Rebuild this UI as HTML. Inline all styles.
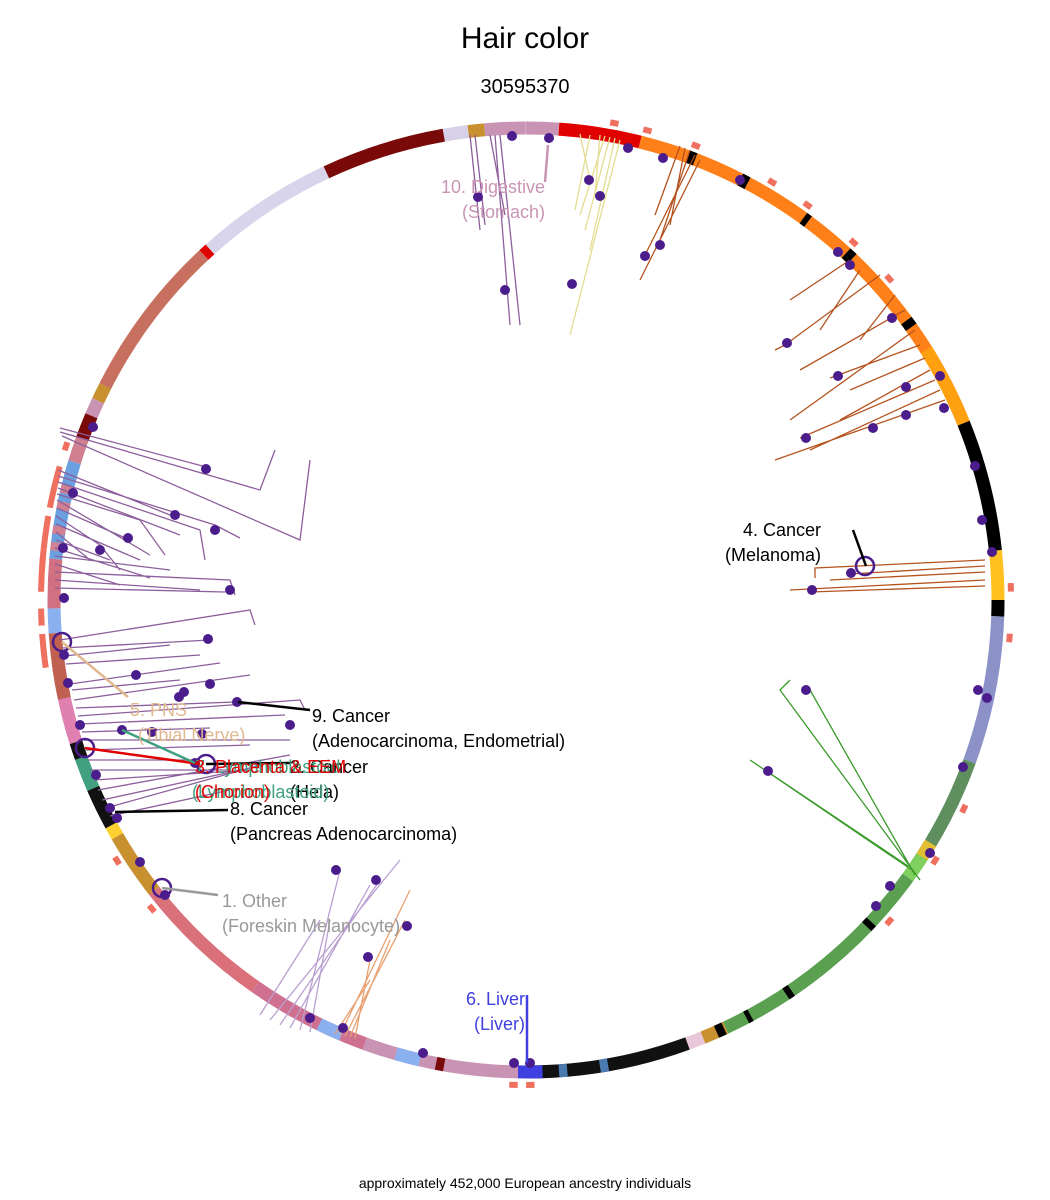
<!DOCTYPE html>
<html><head><meta charset="utf-8"><style>
html,body{margin:0;padding:0;background:#fff;}
svg{display:block;font-family:"Liberation Sans",sans-serif;}
</style></head><body>
<svg width="1050" height="1200" viewBox="0 0 1050 1200" xmlns="http://www.w3.org/2000/svg">
<rect width="1050" height="1200" fill="#fff"/>
<text x="525" y="48" font-size="30" text-anchor="middle">Hair color</text>
<text x="525" y="93" font-size="20" text-anchor="middle">30595370</text>
<text x="525" y="1188" font-size="14" text-anchor="middle">approximately 452,000 European ancestry individuals</text>

<g fill="none" stroke-width="13" transform="rotate(-90 526 600)">
<circle cx="526" cy="600" r="472" pathLength="360" stroke="#c994b4" stroke-dasharray="4 400" stroke-dashoffset="0"/>
<circle cx="526" cy="600" r="472" pathLength="360" stroke="#e00000" stroke-dasharray="10 400" stroke-dashoffset="-4"/>
<circle cx="526" cy="600" r="472" pathLength="360" stroke="#ff8018" stroke-dasharray="54 400" stroke-dashoffset="-14"/>
<circle cx="526" cy="600" r="472" pathLength="360" stroke="#ffa010" stroke-dasharray="10 400" stroke-dashoffset="-58"/>
<circle cx="526" cy="600" r="472" pathLength="360" stroke="#000" stroke-dasharray="16 400" stroke-dashoffset="-68"/>
<circle cx="526" cy="600" r="472" pathLength="360" stroke="#ffc020" stroke-dasharray="6 400" stroke-dashoffset="-84"/>
<circle cx="526" cy="600" r="472" pathLength="360" stroke="#000" stroke-dasharray="2 400" stroke-dashoffset="-90"/>
<circle cx="526" cy="600" r="472" pathLength="360" stroke="#8c92c8" stroke-dasharray="18 400" stroke-dashoffset="-92"/>
<circle cx="526" cy="600" r="472" pathLength="360" stroke="#5f8f5f" stroke-dasharray="15 400" stroke-dashoffset="-110"/>
<circle cx="526" cy="600" r="472" pathLength="360" stroke="#e0c030" stroke-dasharray="2 400" stroke-dashoffset="-121"/>
<circle cx="526" cy="600" r="472" pathLength="360" stroke="#80d060" stroke-dasharray="3 400" stroke-dashoffset="-123"/>
<circle cx="526" cy="600" r="472" pathLength="360" stroke="#5aa050" stroke-dasharray="29 400" stroke-dashoffset="-126"/>
<circle cx="526" cy="600" r="472" pathLength="360" stroke="#c99030" stroke-dasharray="3 400" stroke-dashoffset="-155"/>
<circle cx="526" cy="600" r="472" pathLength="360" stroke="#e8c8d8" stroke-dasharray="2 400" stroke-dashoffset="-158"/>
<circle cx="526" cy="600" r="472" pathLength="360" stroke="#111" stroke-dasharray="20 400" stroke-dashoffset="-160"/>
<circle cx="526" cy="600" r="472" pathLength="360" stroke="#4a7ab0" stroke-dasharray="1 4 1 400" stroke-dashoffset="-170"/>
<circle cx="526" cy="600" r="472" pathLength="360" stroke="#4040e0" stroke-dasharray="3 400" stroke-dashoffset="-178"/>
<circle cx="526" cy="600" r="472" pathLength="360" stroke="#c994b4" stroke-dasharray="19 400" stroke-dashoffset="-181"/>
<circle cx="526" cy="600" r="472" pathLength="360" stroke="#8ab0f0" stroke-dasharray="3 400" stroke-dashoffset="-193"/>
<circle cx="526" cy="600" r="472" pathLength="360" stroke="#7a0a0a" stroke-dasharray="1 400" stroke-dashoffset="-190"/>
<circle cx="526" cy="600" r="472" pathLength="360" stroke="#d07090" stroke-dasharray="15 400" stroke-dashoffset="-200"/>
<circle cx="526" cy="600" r="472" pathLength="360" stroke="#8ab0f0" stroke-dasharray="3 400" stroke-dashoffset="-203"/>
<circle cx="526" cy="600" r="472" pathLength="360" stroke="#d9707a" stroke-dasharray="17 400" stroke-dashoffset="-215"/>
<circle cx="526" cy="600" r="472" pathLength="360" stroke="#c99030" stroke-dasharray="8 400" stroke-dashoffset="-232"/>
<circle cx="526" cy="600" r="472" pathLength="360" stroke="#ffd030" stroke-dasharray="1.5 400" stroke-dashoffset="-240"/>
<circle cx="526" cy="600" r="472" pathLength="360" stroke="#111" stroke-dasharray="5 400" stroke-dashoffset="-241.5"/>
<circle cx="526" cy="600" r="472" pathLength="360" stroke="#40a080" stroke-dasharray="4 400" stroke-dashoffset="-246.5"/>
<circle cx="526" cy="600" r="472" pathLength="360" stroke="#111" stroke-dasharray="2 400" stroke-dashoffset="-250.5"/>
<circle cx="526" cy="600" r="472" pathLength="360" stroke="#e080b0" stroke-dasharray="10 400" stroke-dashoffset="-252.5"/>
<circle cx="526" cy="600" r="472" pathLength="360" stroke="#c06050" stroke-dasharray="8 400" stroke-dashoffset="-258"/>
<circle cx="526" cy="600" r="472" pathLength="360" stroke="#8ab0f0" stroke-dasharray="3 400" stroke-dashoffset="-266"/>
<circle cx="526" cy="600" r="472" pathLength="360" stroke="#d07080" stroke-dasharray="6 400" stroke-dashoffset="-269"/>
<circle cx="526" cy="600" r="472" pathLength="360" stroke="#6aa0e0" stroke-dasharray="12 400" stroke-dashoffset="-275"/>
<circle cx="526" cy="600" r="472" pathLength="360" stroke="#d08090" stroke-dasharray="1 1 1 2 1 1 1 400" stroke-dashoffset="-276"/>
<circle cx="526" cy="600" r="472" pathLength="360" stroke="#d08090" stroke-dasharray="6 400" stroke-dashoffset="-287"/>
<circle cx="526" cy="600" r="472" pathLength="360" stroke="#7a0a0a" stroke-dasharray="3 400" stroke-dashoffset="-290"/>
<circle cx="526" cy="600" r="472" pathLength="360" stroke="#c994b4" stroke-dasharray="2 400" stroke-dashoffset="-293"/>
<circle cx="526" cy="600" r="472" pathLength="360" stroke="#c99030" stroke-dasharray="2 400" stroke-dashoffset="-295"/>
<circle cx="526" cy="600" r="472" pathLength="360" stroke="#c87060" stroke-dasharray="21 400" stroke-dashoffset="-297"/>
<circle cx="526" cy="600" r="472" pathLength="360" stroke="#e00000" stroke-dasharray="1 400" stroke-dashoffset="-317"/>
<circle cx="526" cy="600" r="472" pathLength="360" stroke="#d8d4ec" stroke-dasharray="17 400" stroke-dashoffset="-318"/>
<circle cx="526" cy="600" r="472" pathLength="360" stroke="#7a0a0a" stroke-dasharray="15 400" stroke-dashoffset="-335"/>
<circle cx="526" cy="600" r="472" pathLength="360" stroke="#d8d0e8" stroke-dasharray="3 400" stroke-dashoffset="-350"/>
<circle cx="526" cy="600" r="472" pathLength="360" stroke="#c99030" stroke-dasharray="2 400" stroke-dashoffset="-353"/>
<circle cx="526" cy="600" r="472" pathLength="360" stroke="#c994b4" stroke-dasharray="5 400" stroke-dashoffset="-355"/>
<circle cx="526" cy="600" r="472" pathLength="360" stroke="#000" stroke-dasharray="1 6 1 8 0.7 6 1 10 1 400" stroke-dashoffset="-20"/>
<circle cx="526" cy="600" r="472" pathLength="360" stroke="#000" stroke-dasharray="0.8 12 0.8 5 0.6 3 1 400" stroke-dashoffset="-133"/>
</g>
<!-- outer salmon ticks -->
<g fill="none" stroke="#f07060" stroke-width="6" transform="rotate(-90 526 600)">
<circle cx="526" cy="600" r="485" pathLength="360" stroke-dasharray="1 4 1 6 2 3 1 8 1 400" stroke-dashoffset="-262"/>
<circle cx="526" cy="600" r="485" pathLength="360" stroke-dasharray="3 1 2 2 4 1 3 2 5 400" stroke-dashoffset="-263"/>
<circle cx="526" cy="600" r="485" pathLength="360" stroke-dasharray="1 3 1 5 1 400" stroke-dashoffset="-10"/>
<circle cx="526" cy="600" r="485" pathLength="360" stroke-dasharray="1 4 1 6 1 5 1 400" stroke-dashoffset="-30"/>
<circle cx="526" cy="600" r="485" pathLength="360" stroke-dasharray="1 5 1 400" stroke-dashoffset="-88"/>
<circle cx="526" cy="600" r="485" pathLength="360" stroke-dasharray="1 6 1 8 1 400" stroke-dashoffset="-115"/>
<circle cx="526" cy="600" r="485" pathLength="360" stroke-dasharray="1 6 1 400" stroke-dashoffset="-230"/>
<circle cx="526" cy="600" r="485" pathLength="360" stroke-dasharray="1 1 1 400" stroke-dashoffset="-179"/>
</g>

<g fill="none" stroke="#8c5f9c" stroke-width="1.3">
<path d="M60,428 L210,468 M60,432 L260,490 L275,450 M62,436 L300,540 L310,460"/>
<path d="M58,470 L170,515 M58,476 L215,525 L240,538 M58,482 L200,530 L205,560 M58,488 L180,535 M57,494 L140,520 L165,555 M57,500 L150,555 M57,508 L130,540 M56,516 L100,545 L120,570 M56,524 L140,560 M56,532 L90,560 M56,540 L110,560 M55,548 L150,578 M55,556 L170,570 M55,564 L120,585 M55,572 L230,580 L235,595 M55,580 L200,590 M55,588 L225,592"/>
<path d="M60,640 L250,610 L255,625 M62,648 L210,640 M64,656 L170,645 M66,664 L200,655"/>
<path d="M70,684 L220,663 M72,690 L180,680 M74,700 L250,675 M76,708 L235,702 M78,716 L300,700 L305,710 M80,724 L285,715 M82,732 L210,728 M84,740 L290,740 M86,750 L250,745 M88,760 L200,760 M90,770 L230,770 M94,780 L250,770 M98,790 L290,755 M102,800 L240,770 M106,808 L260,765 M110,816 L230,790"/>
</g>
<g fill="none" stroke="#b5531f" stroke-width="1.3">
<path d="M985,560 L815,568 L815,578 M985,566 L850,574 M985,572 L830,580 M985,580 L790,590 M985,586 L810,592"/>
<path d="M945,400 L775,460 M940,390 L810,450 M935,380 L800,438 M930,370 L840,420 M925,358 L850,390 M920,345 L830,378 M915,330 L790,420 M905,310 L800,370 M895,295 L860,340 M880,275 L785,345 L775,350"/>
<path d="M850,260 L790,300 M860,270 L820,330"/>
<path d="M700,160 L640,280 M695,155 L645,255 M690,150 L660,240 M685,148 L670,225 M680,146 L655,215"/>
</g>
<g fill="none" stroke="#e4dc90" stroke-width="1.3">
<path d="M620,140 L570,335 M615,138 L590,250 M610,137 L585,230 M605,136 L580,215 M600,135 L595,195 M590,135 L575,210 M580,134 L590,180"/>
</g>
<g fill="none" stroke="#8c5f9c" stroke-width="1.3">
<path d="M470,135 L480,230 M475,135 L485,225 M495,135 L510,325 M500,135 L520,325 M490,135 L505,215"/>
</g>
<g fill="none" stroke="#3a9a2a" stroke-width="1.3">
<path d="M920,880 L780,690 L790,680 M915,875 L810,690 M912,870 L750,760 M908,866 L765,770"/>
</g>
<g fill="none" stroke="#b9a0d0" stroke-width="1.3">
<path d="M270,1020 L400,860 M280,1025 L380,880 M290,1028 L370,885 M300,1030 L340,870 M310,1032 L330,920 M260,1015 L320,920"/>
</g>
<g fill="none" stroke="#e8a070" stroke-width="1.3">
<path d="M340,1035 L410,890 M345,1036 L405,920 M350,1037 L390,940 M355,1038 L370,960 M335,1034 L370,980"/>
</g>

<g fill="#4b1d8c">
<circle cx="93" cy="427" r="5"/><circle cx="206" cy="469" r="5"/><circle cx="215" cy="530" r="5"/><circle cx="175" cy="515" r="5"/>
<circle cx="73" cy="493" r="5"/><circle cx="63" cy="548" r="5"/><circle cx="100" cy="550" r="5"/><circle cx="128" cy="538" r="5"/>
<circle cx="230" cy="590" r="5"/><circle cx="64" cy="598" r="5"/><circle cx="208" cy="639" r="5"/><circle cx="64" cy="655" r="5"/>
<circle cx="68" cy="683" r="5"/><circle cx="136" cy="675" r="5"/><circle cx="184" cy="692" r="5"/><circle cx="210" cy="684" r="5"/>
<circle cx="179" cy="697" r="5"/><circle cx="237" cy="702" r="5"/><circle cx="290" cy="725" r="5"/><circle cx="122" cy="730" r="5"/>
<circle cx="152" cy="732" r="5"/><circle cx="202" cy="734" r="5"/><circle cx="80" cy="725" r="5"/><circle cx="195" cy="763" r="5"/>
<circle cx="96" cy="775" r="5"/><circle cx="110" cy="808" r="5"/><circle cx="117" cy="818" r="5"/><circle cx="140" cy="862" r="5"/>
<circle cx="165" cy="895" r="5"/><circle cx="310" cy="1018" r="5"/><circle cx="343" cy="1028" r="5"/><circle cx="336" cy="870" r="5"/>
<circle cx="376" cy="880" r="5"/><circle cx="407" cy="926" r="5"/><circle cx="368" cy="957" r="5"/><circle cx="423" cy="1053" r="5"/>
<circle cx="514" cy="1063" r="5"/><circle cx="530" cy="1063" r="5"/>
<circle cx="478" cy="197" r="5"/><circle cx="505" cy="290" r="5"/><circle cx="512" cy="136" r="5"/><circle cx="549" cy="138" r="5"/>
<circle cx="589" cy="180" r="5"/><circle cx="600" cy="196" r="5"/><circle cx="572" cy="284" r="5"/><circle cx="628" cy="148" r="5"/>
<circle cx="663" cy="158" r="5"/><circle cx="645" cy="256" r="5"/><circle cx="660" cy="245" r="5"/><circle cx="740" cy="180" r="5"/>
<circle cx="838" cy="252" r="5"/><circle cx="850" cy="265" r="5"/><circle cx="892" cy="318" r="5"/><circle cx="787" cy="343" r="5"/>
<circle cx="838" cy="376" r="5"/><circle cx="940" cy="376" r="5"/><circle cx="906" cy="387" r="5"/><circle cx="944" cy="408" r="5"/>
<circle cx="806" cy="438" r="5"/><circle cx="873" cy="428" r="5"/><circle cx="906" cy="415" r="5"/><circle cx="975" cy="466" r="5"/>
<circle cx="982" cy="520" r="5"/><circle cx="851" cy="573" r="5"/><circle cx="812" cy="590" r="5"/><circle cx="992" cy="552" r="5"/>
<circle cx="978" cy="690" r="5"/><circle cx="987" cy="698" r="5"/><circle cx="806" cy="690" r="5"/><circle cx="768" cy="771" r="5"/>
<circle cx="963" cy="767" r="5"/><circle cx="930" cy="853" r="5"/><circle cx="890" cy="886" r="5"/><circle cx="876" cy="906" r="5"/>
</g>
<g fill="none" stroke="#4b1d8c" stroke-width="2.5">
<circle cx="62" cy="642" r="9"/><circle cx="85" cy="748" r="9"/><circle cx="206" cy="764" r="9"/><circle cx="162" cy="888" r="9"/><circle cx="865" cy="566" r="9"/>
</g>

<g fill="none" stroke-width="2.5">
<line x1="853" y1="530" x2="866" y2="566" stroke="#000"/>
<line x1="238" y1="702" x2="310" y2="710" stroke="#000"/>
<line x1="115" y1="812" x2="228" y2="810" stroke="#000"/>
<line x1="206" y1="764" x2="290" y2="763" stroke="#000"/>
<line x1="85" y1="748" x2="200" y2="764" stroke="#e00000"/>
<line x1="122" y1="730" x2="195" y2="763" stroke="#40a080"/>
<line x1="62" y1="642" x2="128" y2="697" stroke="#e0b890"/>
<line x1="162" y1="888" x2="218" y2="895" stroke="#999"/>
<line x1="527" y1="995" x2="527" y2="1063" stroke="#4040e0"/>
<line x1="548" y1="145" x2="545" y2="182" stroke="#c994b4"/>
</g>

<g font-size="18">
<text x="545" y="193" fill="#c994b4" text-anchor="end">10. Digestive</text>
<text x="545" y="218" fill="#c994b4" text-anchor="end">(Stomach)</text>
<text x="821" y="536" text-anchor="end">4. Cancer</text>
<text x="821" y="561" text-anchor="end">(Melanoma)</text>
<text x="312" y="722">9. Cancer</text>
<text x="312" y="747">(Adenocarcinoma, Endometrial)</text>
<text x="130" y="716" fill="#e0b890">5. PNS</text>
<text x="138" y="741" fill="#e0b890">(Tibial Nerve)</text>
<text x="290" y="773">2. Cancer</text>
<text x="290" y="798">(Hela)</text>
<text x="195" y="773" fill="#40a080">7. Lymphoblastoid</text>
<text x="192" y="798" fill="#40a080">(Lymphoblastoid)</text>
<text x="195" y="773" fill="#e00000">3. Placenta &amp; EEM</text>
<text x="195" y="798" fill="#e00000">(Chorion)</text>
<text x="230" y="815">8. Cancer</text>
<text x="230" y="840">(Pancreas Adenocarcinoma)</text>
<text x="222" y="907" fill="#999">1. Other</text>
<text x="222" y="932" fill="#999">(Foreskin Melanocyte)</text>
<text x="525" y="1005" fill="#4040e0" text-anchor="end">6. Liver</text>
<text x="525" y="1030" fill="#4040e0" text-anchor="end">(Liver)</text>
</g>
</svg>
</body></html>
